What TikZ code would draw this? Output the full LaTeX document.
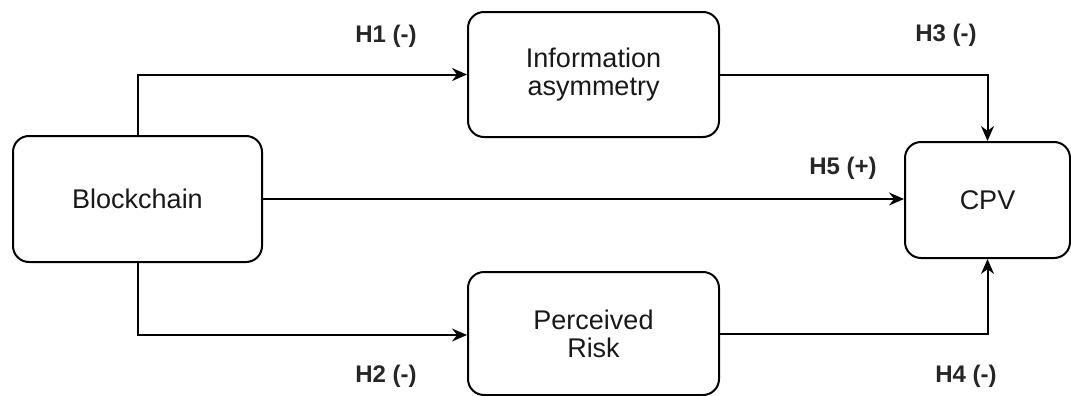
\documentclass[tikz,border=0pt]{standalone}
\usepackage{fontspec}
\setmainfont{Liberation Sans}
\usetikzlibrary{arrows.meta}
\begin{document}
\begin{tikzpicture}[x=0.5pt,y=-0.5pt,
  box/.style={draw,line width=1pt,rounded corners=8pt,fill=white,align=center,
    font=\fontsize{13.5}{14}\selectfont,text=black!90,inner sep=0pt},
  conn/.style={line width=1pt,-{Stealth[length=7.5pt,width=6.5pt,inset=2.5pt]}},
  hlab/.style={font=\fontsize{12}{14}\selectfont\bfseries,text=black!85,inner sep=0pt}]
\useasboundingbox (0,0) rectangle (1071,396);
\node[box,minimum width=249pt*0.5,minimum height=126pt*0.5] (bc) at (137.5,199) {Blockchain};
\node[box,minimum width=251pt*0.5,minimum height=125pt*0.5] (ia) at (593.5,74.5) {Information\\asymmetry};
\node[box,minimum width=251pt*0.5,minimum height=123pt*0.5] (pr) at (593.5,333.5) {Perceived\\Risk};
\node[box,minimum width=165pt*0.5,minimum height=116pt*0.5] (cpv) at (987.5,200) {CPV};
\coordinate (c1) at (137.5,74.5);
\coordinate (c2) at (987.5,74.5);
\coordinate (c3) at (137.5,335);
\coordinate (c4) at (987.5,333.5);
\draw[conn] (bc.north) -- (c1) -- (ia.west);
\draw[conn] (ia.east) -- (c2) -- (cpv.north);
\draw[conn] (bc.east) -- (bc.east -| cpv.west);
\draw[conn] (bc.south) -- (c3) -- (c3 -| pr.west);
\draw[conn] (pr.east) -- (c4) -- (cpv.south);
\node[hlab] (h1) at (386,36) {H1 (-)};
\node[hlab] (h3) at (946,35) {H3 (-)};
\node[hlab] (h5) at (843,168) {H5 (+)};
\node[hlab] (h2) at (386,376) {H2 (-)};
\node[hlab] (h4) at (966,376) {H4 (-)};
\end{tikzpicture}
\end{document}
